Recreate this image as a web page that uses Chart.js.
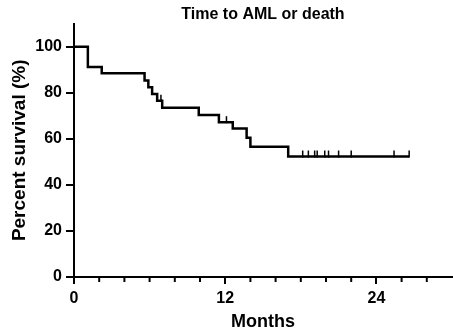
<!DOCTYPE html>
<html>
<head>
<meta charset="utf-8">
<script src="https://cdn.jsdelivr.net/npm/chart.js@4.4.0/dist/chart.umd.min.js"></script>
<style>
  html, body { margin: 0; padding: 0; background: #fff; }
  #wrap { width: 453px; height: 333px; }
</style>
</head>
<body>
<div id="wrap"><canvas id="kmChart"></canvas></div>
<script>
// Kaplan-Meier steps
const eventMonths = [0, 1.1, 2.2, 5.6, 5.9, 6.2, 6.6, 7.0, 9.9, 11.5, 12.6, 13.7, 14.0, 17.0, 26.6];
const survivalPct = [100, 91.2, 88.4, 85.3, 82.4, 79.4, 76.5, 73.5, 70.3, 67.2, 64.5, 60.4, 56.5, 52.3, 52.3];
const censoredMonths = [6.9, 12.1, 18.15, 18.6, 19.1, 19.3, 19.9, 20.2, 21.0, 22.0, 25.4, 26.6];
const xTickValues = [0, 12, 24];
const yTickValues = [0, 20, 40, 60, 80, 100];

const FONT = "'Liberation Sans', Arial, sans-serif";

// survival level at time t (step function)
function survivalAt(t) {
  let s = survivalPct[0];
  eventMonths.forEach((m, i) => {
    if (m <= t) s = survivalPct[i];
  });
  return s;
}

// small minor ticks every 2 months on the x axis
const minorTicks = {
  id: 'minorTicks',
  afterDraw(chart) {
    const xs = chart.scales.x;
    const ctx = chart.ctx;
    ctx.save();
    ctx.strokeStyle = '#000';
    ctx.lineWidth = 2;
    for (let m = 2; m < 30; m += 2) {
      if (xTickValues.includes(m)) continue;
      const px = xs.getPixelForValue(m);
      ctx.beginPath();
      ctx.moveTo(px, xs.top);
      ctx.lineTo(px, xs.top + 5);
      ctx.stroke();
    }
    ctx.restore();
  }
};

// censor marks: short vertical ticks sitting on the curve
const censorMarks = {
  id: 'censorMarks',
  afterDatasetsDraw(chart) {
    const xs = chart.scales.x, ys = chart.scales.y;
    const ctx = chart.ctx;
    ctx.save();
    ctx.strokeStyle = '#000';
    ctx.lineWidth = 1.5;
    censoredMonths.forEach(t => {
      const px = xs.getPixelForValue(t);
      const py = ys.getPixelForValue(survivalAt(t));
      ctx.beginPath();
      ctx.moveTo(px, py + 1);
      ctx.lineTo(px, py - 6);
      ctx.stroke();
    });
    ctx.restore();
  }
};

const ctx = document.getElementById('kmChart').getContext('2d');

new Chart(ctx, {
  type: 'line',
  data: {
    datasets: [{
      data: eventMonths.map((m, i) => ({ x: m, y: survivalPct[i] })),
      borderColor: '#000',
      borderWidth: 2.5,
      pointRadius: 0,
      stepped: true,
      fill: false
    }]
  },
  options: {
    responsive: true,
    maintainAspectRatio: false,
    animation: false,
    devicePixelRatio: 1,
    layout: { padding: { top: 0, right: 1, bottom: 0, left: 0 } },
    plugins: {
      legend: { display: false },
      tooltip: { enabled: false },
      title: {
        display: true,
        text: 'Time to AML or death',
        color: '#000',
        fullSize: false,
        font: { family: FONT, size: 16, weight: 'bold', lineHeight: 1.1 },
        padding: { top: 6, bottom: 0 }
      }
    },
    scales: {
      x: {
        type: 'linear',
        min: 0,
        max: 30,
        afterFit: s => { s.height = 56; },
        border: { display: true, color: '#000', width: 2 },
        grid: { display: true, drawOnChartArea: false, drawTicks: true, tickLength: 7, color: '#000', lineWidth: 2 },
        afterBuildTicks: s => { s.ticks = xTickValues.map(v => ({ value: v })); },
        ticks: {
          color: '#000',
          padding: 5,
          maxRotation: 0,
          autoSkip: false,
          font: { family: FONT, size: 16, weight: 'bold' }
        },
        title: {
          display: true,
          text: 'Months',
          color: '#000',
          padding: { top: 0, bottom: 0 },
          font: { family: FONT, size: 18, weight: 'bold' }
        }
      },
      y: {
        min: 0,
        max: 110,
        afterFit: s => { s.width = 74; },
        border: { display: true, color: '#000', width: 2 },
        grid: { display: true, drawOnChartArea: false, drawTicks: true, tickLength: 8, color: '#000', lineWidth: 2 },
        afterBuildTicks: s => { s.ticks = yTickValues.map(v => ({ value: v })); },
        ticks: {
          color: '#000',
          padding: 4,
          font: { family: FONT, size: 16, weight: 'bold' }
        },
        title: {
          display: true,
          text: 'Percent survival (%)',
          color: '#000',
          padding: { top: 8, bottom: 0 },
          font: { family: FONT, size: 19, weight: 'bold' }
        }
      }
    }
  },
  plugins: [minorTicks, censorMarks]
});
</script>
</body>
</html>
